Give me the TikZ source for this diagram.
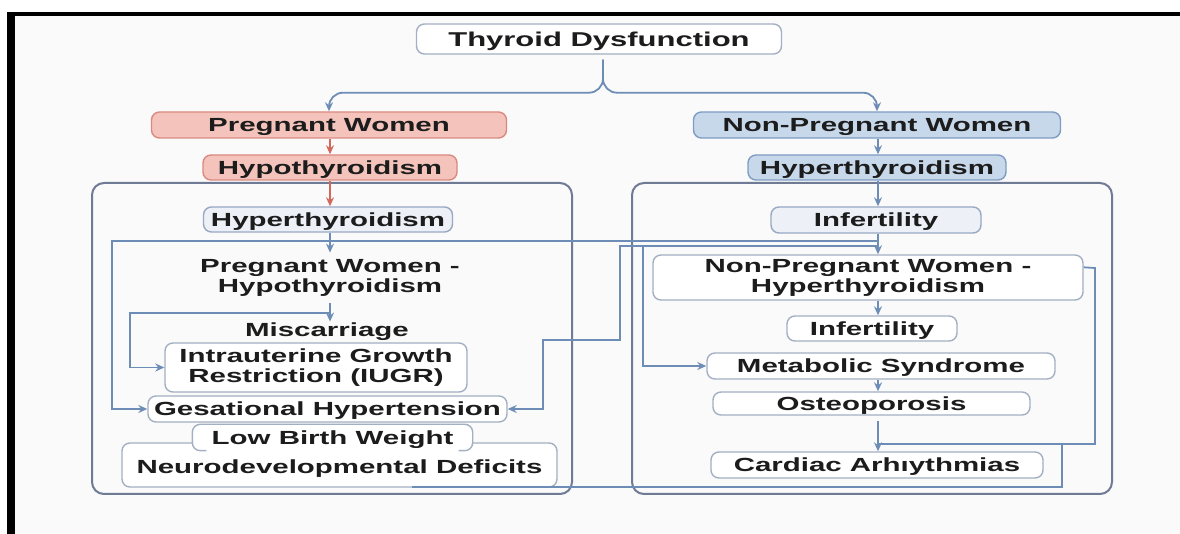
\documentclass[tikz,border=0pt]{standalone}
\usepackage{fontspec}
\setmainfont{Liberation Sans}[FakeStretch=1.55]
\usetikzlibrary{arrows.meta,calc}
\definecolor{bg}{HTML}{FAFAFA}
\definecolor{salf}{HTML}{F4C4BC}
\definecolor{sald}{HTML}{D98A80}
\definecolor{redar}{HTML}{D2685C}
\definecolor{bluf}{HTML}{C8D8EB}
\definecolor{blud}{HTML}{7F9CC2}
\definecolor{litf}{HTML}{EDF1F7}
\definecolor{litd}{HTML}{98A8C2}
\definecolor{wbd}{HTML}{A3AFC2}
\definecolor{conn}{HTML}{6E8DB6}
\definecolor{cont}{HTML}{6F7A95}
\definecolor{txt}{HTML}{1C1C1C}
\begin{document}
\begin{tikzpicture}[x=0.5pt,y=-0.5pt,
 lab/.style={font=\fontsize{9.5}{10}\selectfont\bfseries, text=txt, align=center, inner sep=0pt, text height=6.9pt, text depth=0pt},
 ml/.style={text height=, text depth=},
 bx/.style={lab, draw=wbd, fill=white, rounded corners=4pt, line width=0.7pt},
 salbox/.style={bx, draw=sald, fill=salf},
 blubox/.style={bx, draw=blud, fill=bluf},
 litbox/.style={bx, draw=litd, fill=litf},
 cline/.style={draw=conn, line width=0.9pt},
 carrow/.style={cline, -{Stealth[length=4.5pt,width=4pt]}},
 rarrow/.style={draw=redar, line width=1pt, -{Stealth[length=4.5pt,width=4pt]}},
 container/.style={draw=cont, line width=1pt, rounded corners=6pt},
 sz/.style 2 args={minimum width=#1*0.5pt, minimum height=#2*0.5pt}
]
\useasboundingbox (0,0) rectangle (1180,534);
% background and frame
\fill[white] (0,0) rectangle (1180,534);
\fill[bg] (15,16) rectangle (1180,534);
\fill[black] (7,12) rectangle (15,534);
\fill[black] (7,12) rectangle (1180,16);
% containers
\draw[container] (92,183) rectangle (572,494);
\draw[container] (632,183) rectangle (1112,494);
% column coordinates
\coordinate (lc) at (330,0);
\coordinate (rc) at (878,0);
% top
\node[bx, sz={365}{30}, font=\fontsize{10}{11}\selectfont\bfseries, text height=7.2pt] (thy) at (599,39) {Thyroid Dysfunction};
% left column
\node[salbox, sz={355}{26}] (pw) at (329,125) {Pregnant Women};
\node[salbox, sz={254}{25}] (hypo) at (330,167.5) {Hypothyroidism};
\node[litbox, sz={249}{25}] (hyl) at (328,219.5) {Hyperthyroidism};
\node[lab, ml, minimum height=25pt] (pwh) at (330,278) {Pregnant Women -\\Hypothyroidism};
\node[lab, minimum height=8pt] (misc) at (327,330) {Miscarriage};
\node[bx, ml, sz={302}{49}] (iugr) at (316,367.5) {Intrauterine Growth\\Restriction (IUGR)};
\node[bx, sz={435}{44}, text height=9pt] (neuro) at (339.5,465) {Neurodevelopmental Deficits};
\node[bx, sz={359}{26}] (gest) at (327.5,409) {Gesational Hypertension};
\node[bx, draw=none, sz={279}{25}] (lbw) at (332.5,437.5) {Low Birth Weight};
\draw[draw=wbd, line width=0.7pt, rounded corners=4pt] ($(lbw.south west)+(14,0)$) -- (lbw.south west) -- (lbw.north west) -- (lbw.north east) -- (lbw.south east) -- ++(-14,0);
% right column
\node[blubox, sz={367}{26}] (npw) at (877,125) {Non-Pregnant Women};
\node[blubox, sz={258}{25}] (hyr) at (877,167.5) {Hyperthyroidism};
\node[litbox, sz={210}{26}] (inf1) at (876,220) {Infertility};
\node[bx, ml, sz={430}{45}] (npwh) at (868,277.5) {Non-Pregnant Women -\\Hyperthyroidism};
\node[bx, sz={170}{25}] (inf2) at (872,328.5) {Infertility};
\node[bx, sz={348}{26}] (meta) at (881,366) {Metabolic Syndrome};
\node[bx, sz={317}{23}] (osteo) at (871.5,403.5) {Osteoporosis};
\node[bx, sz={332}{26}] (card) at (877,465) {Cardiac Arhıythmias};
% junction coordinates
\coordinate (jA) at (878,241);
\coordinate (jB) at (878,246);
\coordinate (jM) at (643,246);
\coordinate (jL) at (330,313);
\coordinate (jC) at (878,444);
\coordinate (jD) at (1062,444);
\coordinate (jE) at (412,487);
% brace from top node
\draw[carrow, rounded corners=7pt] ($(thy.south)+(4,5)$) -- ++(0,33) -| (pw.north);
\draw[carrow, rounded corners=7pt] ($(thy.south)+(4,5)$) -- ++(0,33) -| (npw.north);
% red arrows
\draw[rarrow] (pw.south -| lc) -- (hypo.north -| lc);
\draw[rarrow] (hypo.south -| lc) -- (hyl.north -| lc);
% left column connectors
\draw[carrow] (hyl.south -| lc) -- (pwh.north -| lc);
\draw[carrow] (pwh.south -| lc) -- (misc.north -| lc);
\draw[carrow] (jL) -- (130,313) |- (iugr.west);
% right column connectors
\draw[carrow] (npw.south -| rc) -- (hyr.north -| rc);
\draw[carrow] (hyr.south -| rc) -- (inf1.north -| rc);
\draw[carrow] (inf1.south -| rc) -- (npwh.north -| rc);
\draw[carrow] (npwh.south -| rc) -- (inf2.north -| rc);
\draw[carrow] (meta.south -| rc) -- (osteo.north -| rc);
\draw[carrow] ($(osteo.south -| rc)+(0,5)$) -- (card.north -| rc);
% cross connectors
\draw[carrow] (jA) -- (112,241) |- (gest.west);
\draw[carrow] (jB) -- (620,246) -- (620,340) -- (543,340) |- (gest.east);
\draw[carrow] (jM) |- (meta.west);
\draw[cline] ($(npwh.north east)+(0,13)$) -- (1095,268) |- (jC);
\draw[cline] (jD) |- (jE);
\end{tikzpicture}
\end{document}
